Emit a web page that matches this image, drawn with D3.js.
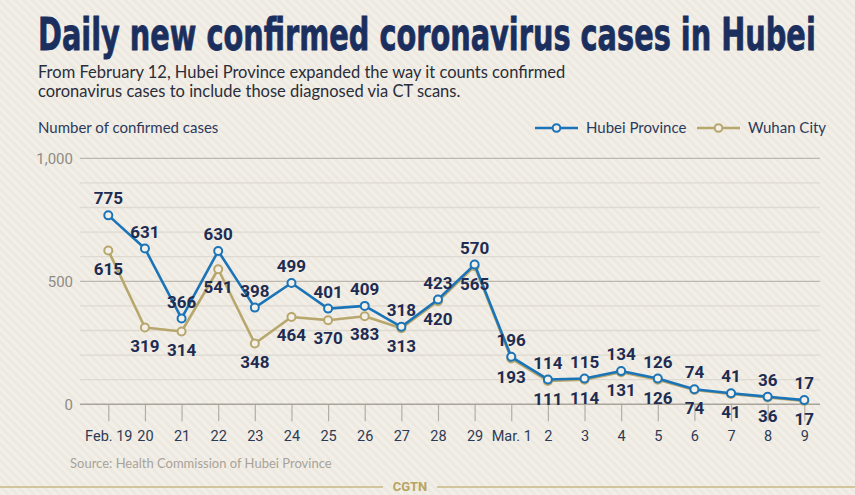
<!DOCTYPE html>
<html>
<head>
<meta charset="utf-8">
<script src="https://cdn.jsdelivr.net/npm/d3@7"></script>
<style>
  body { margin: 0; background: #eeeae2; overflow: hidden; }
  svg { display: block; }
</style>
</head>
<body>
<div id="chart"></div>
<script>
/* DATA */
const dates = ["Feb. 19", "20", "21", "22", "23", "24", "25", "26", "27", "28", "29",
  "Mar. 1", "2", "3", "4", "5", "6", "7", "8", "9"];
// values as plotted in the picture
const hubeiValues = [768, 633, 349, 623, 393, 493, 389, 400, 315, 426, 568, 193, 101, 105, 135, 105, 61, 45, 31, 17];
const wuhanValues = [625, 312, 296, 549, 247, 355, 342, 358, 309, 419, 561, 186, 95, 100, 130, 100, 58, 42, 28, 14];
// numbers printed next to points
const hubeiLabels = [775, 631, 366, 630, 398, 499, 401, 409, 318, 423, 570, 196, 114, 115, 134, 126, 74, 41, 36, 17];
const wuhanLabels = [615, 319, 314, 541, 348, 464, 370, 383, 313, 420, 565, 193, 111, 114, 131, 126, 74, 41, 36, 17];
const yTicks = [0, 500, 1000];
const gridTicks = d3.range(0, 1001, 100);

/* CONSTANTS */
const width = 855, height = 495;
const navy = "#1e2c52";
const blue = "#1b74b8";
const tan = "#b8a76c";

const svg = d3.select("#chart").append("svg")
  .attr("width", width)
  .attr("height", height);

// striped background
const defs = svg.append("defs");
const pat = defs.append("pattern")
  .attr("id", "stripes")
  .attr("width", 6).attr("height", 6)
  .attr("patternUnits", "userSpaceOnUse")
  .attr("patternTransform", "rotate(-45)");
pat.append("rect").attr("width", 6).attr("height", 6).attr("fill", "#ede9e0");
pat.append("rect").attr("width", 3).attr("height", 6).attr("fill", "#f2efe8");
svg.append("rect").attr("width", width).attr("height", height).attr("fill", "url(#stripes)");

// scales
const x = d3.scalePoint().domain(dates).range([108.3, 804.3]);
const y = d3.scaleLinear().domain([0, 1000]).range([404.3, 158.3]);

// title: squeeze horizontally to the width of the original
const title = svg.append("text")
  .attr("font-family", "DejaVu Sans Condensed, DejaVu Sans")
  .attr("font-weight", "bold")
  .attr("font-size", 45)
  .attr("fill", "#1b2f5e")
  .attr("stroke", "#1b2f5e")
  .attr("stroke-width", 0.8)
  .text("Daily new confirmed coronavirus cases in Hubei");
const tw = title.node().getComputedTextLength();
title.attr("transform", `translate(38, 50) scale(${778 / tw}, 1)`);

const sub = svg.append("g")
  .attr("font-family", "Lato")
  .attr("font-size", 16.5)
  .attr("fill", "#2a2d3a");
sub.append("text").attr("x", 38).attr("y", 78)
  .text("From February 12, Hubei Province expanded the way it counts confirmed");
sub.append("text").attr("x", 38).attr("y", 97)
  .text("coronavirus cases to include those diagnosed via CT scans.");

svg.append("text")
  .attr("x", 38).attr("y", 133)
  .attr("font-family", "Lato")
  .attr("font-size", 15)
  .attr("fill", "#2b3a5c")
  .text("Number of confirmed cases");

// legend
const legendItems = [
  { name: "Hubei Province", color: blue, x0: 535 },
  { name: "Wuhan City", color: tan, x0: 697 }
];
const legend = svg.selectAll(".legend")
  .data(legendItems)
  .join("g")
  .attr("class", "legend")
  .attr("transform", d => `translate(${d.x0}, 128)`);
legend.append("line")
  .attr("x1", 0).attr("x2", 43)
  .attr("stroke", d => d.color).attr("stroke-width", 2.5);
legend.append("circle")
  .attr("cx", 21.5).attr("r", 3.8)
  .attr("fill", "#f3f0e9")
  .attr("stroke", d => d.color).attr("stroke-width", 2);
legend.append("text")
  .attr("x", 51).attr("dy", "0.35em")
  .attr("font-family", "Lato")
  .attr("font-size", 15)
  .attr("fill", "#2b3a5c")
  .text(d => d.name);

// gridlines
svg.append("g")
  .selectAll("line")
  .data(gridTicks.filter(d => d > 0))
  .join("line")
  .attr("x1", 80).attr("x2", 820)
  .attr("y1", d => y(d)).attr("y2", d => y(d))
  .attr("stroke", d => d % 500 === 0 ? "#bdb8ae" : "#dedad1")
  .attr("stroke-width", 1.3);

// y axis labels
svg.append("g")
  .selectAll("text")
  .data(yTicks)
  .join("text")
  .attr("x", 73)
  .attr("y", d => y(d))
  .attr("dy", "0.35em")
  .attr("text-anchor", "end")
  .attr("font-family", "Roboto")
  .attr("font-size", 15)
  .attr("fill", "#8f8b84")
  .text(d => d3.format(",")(d));

// x axis
const xAxis = d3.axisBottom(x).tickSize(17).tickPadding(9);
const xAxisGroup = svg.append("g")
  .attr("transform", `translate(0, ${y(0)})`)
  .call(xAxis);
xAxisGroup.select(".domain").remove();
xAxisGroup.selectAll(".tick line").attr("stroke", "#b3aea4").attr("stroke-width", 1.2);
xAxisGroup.selectAll(".tick text")
  .attr("font-family", "Roboto")
  .attr("font-size", 14.5)
  .attr("fill", "#2d3a55");
svg.append("line")
  .attr("x1", 80).attr("x2", 820)
  .attr("y1", y(0)).attr("y2", y(0))
  .attr("stroke", "#a9a49a").attr("stroke-width", 1.6);

// lines
const lineGen = d3.line()
  .x(d => x(d.date))
  .y(d => y(d.value));

const series = [
  { name: "Wuhan City", color: tan, values: wuhanValues, labels: wuhanLabels, dy: 18 },
  { name: "Hubei Province", color: blue, values: hubeiValues, labels: hubeiLabels, dy: -17 }
];

series.forEach(s => {
  const pts = dates.map((d, i) => ({ date: d, value: s.values[i], label: s.labels[i] }));
  svg.append("path")
    .datum(pts)
    .attr("fill", "none")
    .attr("stroke", s.color)
    .attr("stroke-width", 2.6)
    .attr("stroke-linejoin", "round")
    .attr("d", lineGen);
  svg.append("g")
    .selectAll("circle")
    .data(pts)
    .join("circle")
    .attr("cx", d => x(d.date))
    .attr("cy", d => y(d.value))
    .attr("r", 4)
    .attr("fill", "#f3f0e9")
    .attr("stroke", s.color)
    .attr("stroke-width", 2);
  s.pts = pts;
});

series.forEach(s => {
  svg.append("g")
    .selectAll("text")
    .data(s.pts)
    .join("text")
    .attr("x", d => x(d.date))
    .attr("y", d => y(d.value) + s.dy)
    .attr("dy", "0.36em")
    .attr("text-anchor", "middle")
    .attr("font-family", "Roboto")
    .attr("font-weight", "bold")
    .attr("font-size", 17)
    .attr("fill", navy)
    .text(d => d.label);
});

// source + footer
svg.append("text")
  .attr("x", 70).attr("y", 468)
  .attr("font-family", "Lato")
  .attr("font-size", 13)
  .attr("fill", "#a8a39a")
  .text("Source: Health Commission of Hubei Province");

svg.append("line").attr("x1", 0).attr("x2", 383).attr("y1", 487).attr("y2", 487)
  .attr("stroke", "#c9b983").attr("stroke-width", 1.5);
svg.append("line").attr("x1", 437).attr("x2", 855).attr("y1", 487).attr("y2", 487)
  .attr("stroke", "#c9b983").attr("stroke-width", 1.5);
svg.append("text")
  .attr("x", 410).attr("y", 491)
  .attr("text-anchor", "middle")
  .attr("font-family", "Roboto")
  .attr("font-weight", "bold")
  .attr("font-size", 13)
  .attr("fill", "#b7a45f")
  .text("CGTN");
</script>
</body>
</html>
